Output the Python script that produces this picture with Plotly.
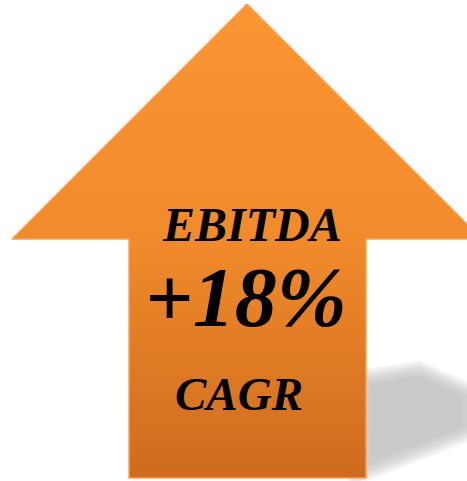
import plotly.graph_objects as go

# ---- content ----
labels = ["EBITDA", "+18%", "CAGR"]
label_sizes = [48, 84, 47]
label_x = [252, 246, 239]
label_y = [224, 297, 394]

# ---- geometry (pixel space, y down) ----
W, H = 467, 481
arrow_x = [247, 482, 366, 366, 129, 129, 12, 247]
arrow_y = [4, 239, 239, 478, 478, 239, 239, 4]

shadow_x = [355, 420, 478, 478, 355, 355]
shadow_y = [376, 366, 392, 432, 480, 376]

fig = go.Figure()

# blurred shadow: nested polygons
cx = sum(shadow_x[:-1]) / 5
cy = sum(shadow_y[:-1]) / 5
for k in range(7):
    s = 1.12 - k * 0.06
    xs = [cx + (x - cx) * s for x in shadow_x]
    ys = [cy + (y - cy) * s for y in shadow_y]
    fig.add_trace(go.Scatter(x=xs, y=ys, mode="lines", fill="toself",
                             fillcolor="rgba(185,185,185,0.17)",
                             line=dict(width=0), hoverinfo="skip", showlegend=False))

# arrow with vertical gradient
fig.add_trace(go.Scatter(
    x=arrow_x, y=arrow_y, mode="lines", fill="toself",
    fillgradient=dict(type="vertical",
                      colorscale=[[0, "#CF6B1E"], [0.5, "#F08A2B"], [1, "#FC9633"]]),
    line=dict(color="#F7A25A", width=1.5),
    hoverinfo="skip", showlegend=False))

for t, s, x, y in zip(labels, label_sizes, label_x, label_y):
    fig.add_annotation(x=x, y=y, xref="x", yref="y", text=f"<b><i>{t}</i></b>",
                       showarrow=False, xanchor="center", yanchor="middle",
                       font=dict(family="Liberation Serif", size=s, color="#000000"))

fig.update_xaxes(range=[0, W], visible=False, fixedrange=True)
fig.update_yaxes(range=[H, 0], visible=False, fixedrange=True)
fig.update_layout(width=W, height=H, margin=dict(l=0, r=0, t=0, b=0),
                  paper_bgcolor="white", plot_bgcolor="white")

fig.write_html("out.html", config={"displayModeBar": False},
               post_script="document.body.style.margin='0';document.body.style.overflow='hidden';")
